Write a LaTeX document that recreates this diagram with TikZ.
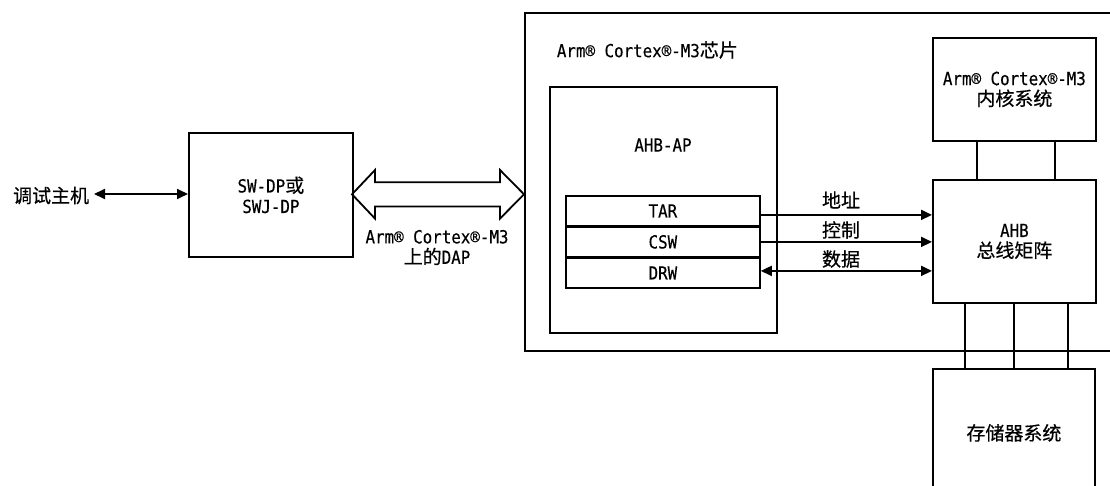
\documentclass[tikz,border=0pt]{standalone}
\usepackage{fontspec}
\setmainfont{DejaVu Sans Mono}[Scale=0.95,FakeStretch=0.877,FakeBold=0.3]
\newfontfamily\zh{Noto Sans CJK SC}[FakeBold=0.5]
\usetikzlibrary{arrows.meta}
\begin{document}
\begin{tikzpicture}[x=1pt,y=-1pt,
  font=\fontsize{19}{20.5}\selectfont,
  line width=1.8pt,
  blk/.style={draw, line width=1.8pt, inner sep=0pt, anchor=north west, align=center},
  txt/.style={inner sep=1pt, align=center},
  arr/.style={-{Triangle[length=11pt,width=10pt]}},
  darr/.style={{Triangle[length=11pt,width=10pt]}-{Triangle[length=11pt,width=10pt]}}]
\useasboundingbox (0,0) rectangle (1110,486);
\clip (0,0) rectangle (1110,486);
\fill[white] (0,0) rectangle (1110,486);

% chip outline
\node[blk, minimum width=620pt, minimum height=338pt] (chip) at (524,12) {};
\node[txt, anchor=west] (chiplbl) at (555,50) {Arm® Cortex®-M3{\zh 芯片}};

% AHB-AP
\node[blk, minimum width=227pt, minimum height=246pt] (ahbap) at (549,86) {};
\node[txt] (ahbaplbl) at (663,145) {AHB-AP};
\node[blk, minimum width=194pt, minimum height=30pt] (tar) at (565,195) {TAR};
\node[blk, minimum width=194pt, minimum height=30pt] (csw) at (565,226) {CSW};
\node[blk, minimum width=194pt, minimum height=30pt] (drw) at (565,257) {DRW};

% core and matrix
\node[blk, minimum width=163pt, minimum height=103pt] (core) at (932,37) {Arm® Cortex®-M3\\{\zh 内核系统}};
\node[blk, minimum width=163pt, minimum height=123pt] (matrix) at (932,179) {AHB\\{\zh 总线矩阵}};
\node[blk, minimum width=162pt, minimum height=128pt] (mem) at (932,368) {{\zh 存储器系统}};

% SW-DP
\node[blk, minimum width=164pt, minimum height=124pt] (swdp) at (188,132) {SW-DP{\zh 或}\\SWJ-DP};
\node[txt, anchor=east] (host) at (91,195.5) {{\zh 调试主机}};
\coordinate (hostend) at (94,194);
\draw[darr] (hostend) -- (hostend -| swdp.west);

% hollow double arrow (DAP)
\draw[line join=miter] (352,194.3) -- (375,170) -- (375,182.3) -- (500,182.3) -- (500,170) -- (524,194.3)
  -- (500,218.6) -- (500,206.5) -- (375,206.5) -- (375,218.6) -- cycle;
\node[txt] (daplbl) at (437,247.5) {Arm® Cortex®-M3\\{\zh 上的}DAP};

% bus arrows
\coordinate (a1) at ([yshift=-4pt]tar.east);
\coordinate (a2) at (csw.east);
\coordinate (a3) at ([yshift=2pt]drw.east);
\draw[arr] (a1) -- (a1 -| matrix.west);
\draw[arr] (a2) -- (a2 -| matrix.west);
\draw[darr] (a3) -- (a3 -| matrix.west);
\node[txt] (l1) at (841,200) {{\zh 地址}};
\node[txt] (l2) at (841,230) {{\zh 控制}};
\node[txt] (l3) at (841,259) {{\zh 数据}};

% core-matrix links
\draw ([xshift=-37.5pt]core.south) -- ([xshift=-37.5pt]core.south |- matrix.north);
\draw ([xshift=40.5pt]core.south) -- ([xshift=40.5pt]core.south |- matrix.north);

% matrix-memory links
\foreach \dx in {-49.5,-0.5,53.5}
  \draw ([xshift=\dx pt]matrix.south) -- ([xshift=\dx pt]matrix.south |- mem.north);
\end{tikzpicture}
\end{document}
